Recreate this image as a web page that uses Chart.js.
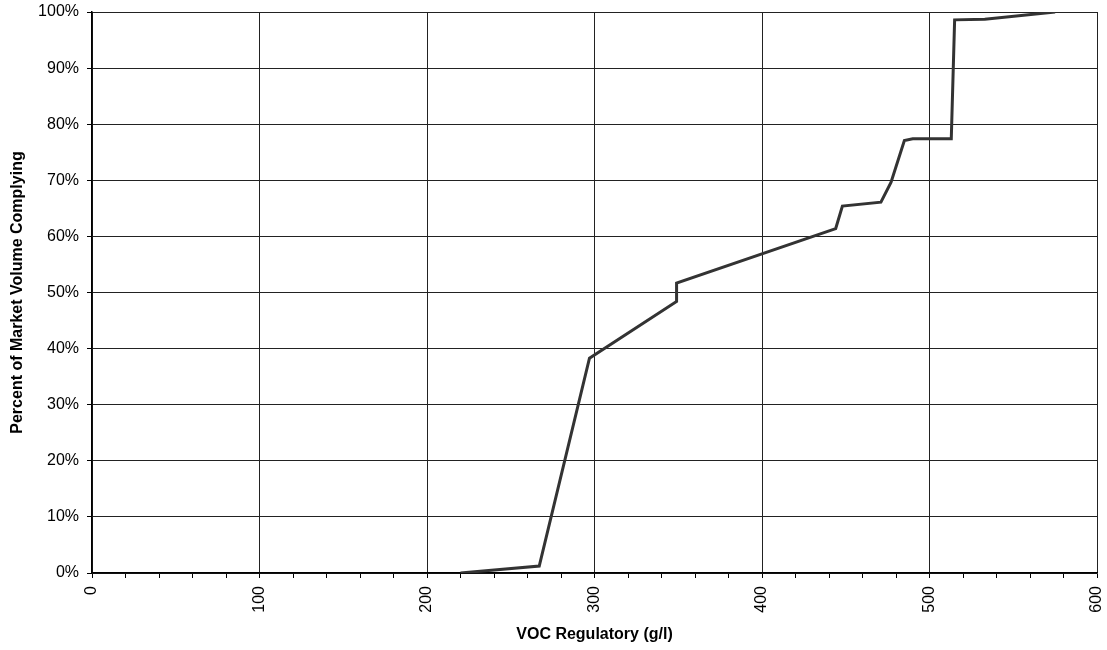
<!DOCTYPE html>
<html>
<head>
<meta charset="utf-8">
<script src="https://cdn.jsdelivr.net/npm/chart.js@4/dist/chart.umd.min.js"></script>
<style>
html,body{margin:0;padding:0;background:#fff;}
#wrap{width:1107px;height:650px;position:relative;}
</style>
</head>
<body>
<div id="wrap"><canvas id="c" width="1107" height="650"></canvas></div>
<script>
const vocValues = [220, 267, 297, 349, 349, 444, 448, 471, 477, 485, 490, 513, 515, 533, 575];
const pctComplying = [0, 1.25, 38.3, 48.4, 51.7, 61.4, 65.4, 66.1, 69.6, 77.1, 77.4, 77.4, 98.6, 98.7, 100];
const xTitle = 'VOC Regulatory (g/l)';
const yTitle = 'Percent of Market Volume Complying';

const points = vocValues.map((v, i) => ({x: v, y: pctComplying[i]}));
const fam = '"Liberation Sans", Arial, sans-serif';
const font = {family: fam, size: 16};

new Chart(document.getElementById('c'), {
  type: 'line',
  data: {datasets: [{data: points, borderColor: '#333333', borderWidth: 3, pointRadius: 0, fill: false, tension: 0}]},
  options: {
    responsive: false, animation: false,
    layout: {padding: {top: 12, right: 10, left: 0, bottom: 0}},
    plugins: {legend: {display: false}, tooltip: {enabled: false}},
    scales: {
      x: {
        type: 'linear', min: 0, max: 600,
        ticks: {stepSize: 20, minRotation: 90, maxRotation: 90, autoSkip: false, color: '#000', font: font, padding: 8,
          callback: v => (v % 100 === 0 ? String(v) : '')},
        grid: {color: c => (c.tick && c.tick.value % 100 === 0 ? '#222' : 'rgba(0,0,0,0)'), tickColor: '#000', tickLength: 5, lineWidth: 1},
        border: {color: '#000', width: 1.5},
        title: {display: true, text: xTitle, color: '#000', font: {family: fam, size: 16, weight: 'bold'}, padding: {top: 4, bottom: 6}},
        afterFit: s => { s.height = 77; s.paddingLeft = 0; s.paddingRight = 0; }
      },
      y: {
        min: 0, max: 100,
        ticks: {stepSize: 10, color: '#000', font: font, padding: 8, callback: v => v + '%'},
        grid: {color: '#222', tickColor: '#000', tickLength: 5, lineWidth: 1},
        border: {color: '#000', width: 1.5},
        title: {display: true, text: yTitle, color: '#000', font: {family: fam, size: 16, weight: 'bold'}, padding: {top: 8, bottom: 4}},
        afterFit: s => { s.width = 92; s.paddingTop = 0; s.paddingBottom = 0; }
      }
    }
  }
});
</script>
</body>
</html>
